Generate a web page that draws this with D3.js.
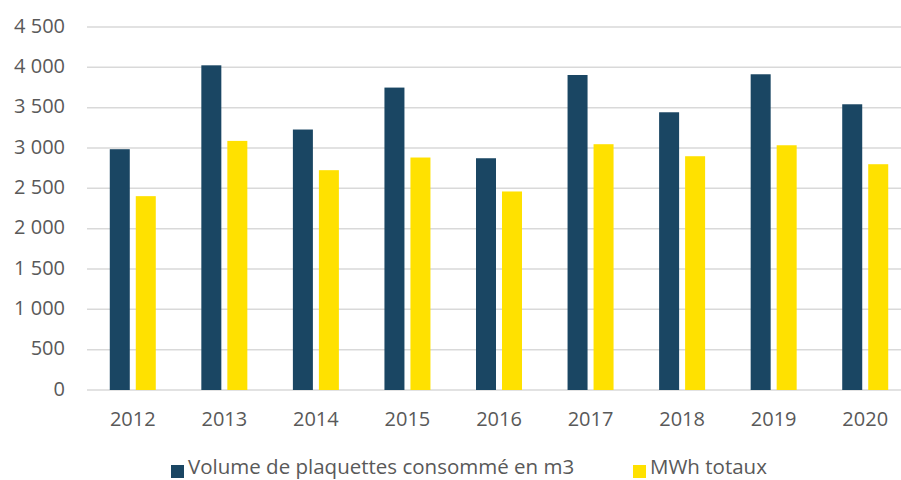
<!DOCTYPE html>
<html>
<head>
<meta charset="utf-8">
<script src="https://cdn.jsdelivr.net/npm/d3@7"></script>
<style>
  body { margin: 0; background: #fff; }
  text { font-family: "Open Sans", "Noto Sans", sans-serif; fill: #595959; }
</style>
</head>
<body>
<div id="chart"></div>
<script>
// data
var years = ["2012", "2013", "2014", "2015", "2016", "2017", "2018", "2019", "2020"]
var volume = [2985, 4025, 3229, 3749, 2873, 3905, 3443, 3914, 3542]
var mwh = [2403, 3088, 2725, 2882, 2461, 3047, 2898, 3034, 2799]
var seriesNames = ["Volume de plaquettes consommé en m3", "MWh totaux"]
var colors = ["#1a4663", "#ffe100"]
var yTicks = [0, 500, 1000, 1500, 2000, 2500, 3000, 3500, 4000, 4500]

var width = 901, height = 480
var margin = {top: 27, right: -10, bottom: 90, left: 87}

var svg = d3.select("#chart")
  .append("svg")
    .attr("width", width)
    .attr("height", height)

var x = d3.scaleBand()
  .domain(years)
  .range([margin.left, width - margin.right])

var y = d3.scaleLinear()
  .domain([0, 4500])
  .range([390, margin.top])

// gridlines
svg.append("g")
  .selectAll("line")
  .data(yTicks)
  .enter()
  .append("line")
    .attr("x1", margin.left)
    .attr("x2", width)
    .attr("y1", function(d) { return y(d) })
    .attr("y2", function(d) { return y(d) })
    .attr("stroke", "#d9d9d9")
    .attr("stroke-width", 1.5)

// y labels
svg.append("g")
  .selectAll("text")
  .data(yTicks)
  .enter()
  .append("text")
    .attr("x", 65)
    .attr("y", function(d) { return y(d) })
    .attr("dy", "0.28em")
    .attr("text-anchor", "end")
    .style("font-size", "20px")
    .text(function(d) { return d3.format(",")(d).replace(",", " ") })

// bars: 20px wide, 6px apart, centred in each band
var barW = 20, gap = 6
var inner = d3.scaleBand()
  .domain([0, 1])
  .range([0, barW * 2 + gap])
  .paddingInner(gap / (barW + gap))

var groups = svg.append("g")
  .selectAll("g")
  .data(years)
  .enter()
  .append("g")
    .attr("transform", function(d) {
      return "translate(" + (x(d) + x.bandwidth() / 2 - (barW * 2 + gap) / 2) + ",0)"
    })

groups.selectAll("rect")
  .data(function(d, i) { return [volume[i], mwh[i]] })
  .enter()
  .append("rect")
    .attr("x", function(d, j) { return inner(j) })
    .attr("y", function(d) { return y(d) })
    .attr("width", inner.bandwidth())
    .attr("height", function(d) { return y(0) - y(d) })
    .attr("fill", function(d, j) { return colors[j] })

// x labels
svg.append("g")
  .selectAll("text")
  .data(years)
  .enter()
  .append("text")
    .attr("x", function(d) { return x(d) + x.bandwidth() / 2 })
    .attr("y", 426)
    .attr("text-anchor", "middle")
    .style("font-size", "20px")
    .text(function(d) { return d })

// legend
var legendX = [171, 633]
var legend = svg.append("g")
  .selectAll("g")
  .data(seriesNames)
  .enter()
  .append("g")
    .attr("transform", function(d, i) { return "translate(" + legendX[i] + ",470)" })

legend.append("rect")
  .attr("x", 0)
  .attr("y", -5)
  .attr("width", 13)
  .attr("height", 13)
  .attr("fill", function(d, i) { return colors[i] })

legend.append("text")
  .attr("x", 17)
  .attr("y", 4)
  .style("font-size", "20.5px")
  .text(function(d) { return d })
</script>
</body>
</html>
